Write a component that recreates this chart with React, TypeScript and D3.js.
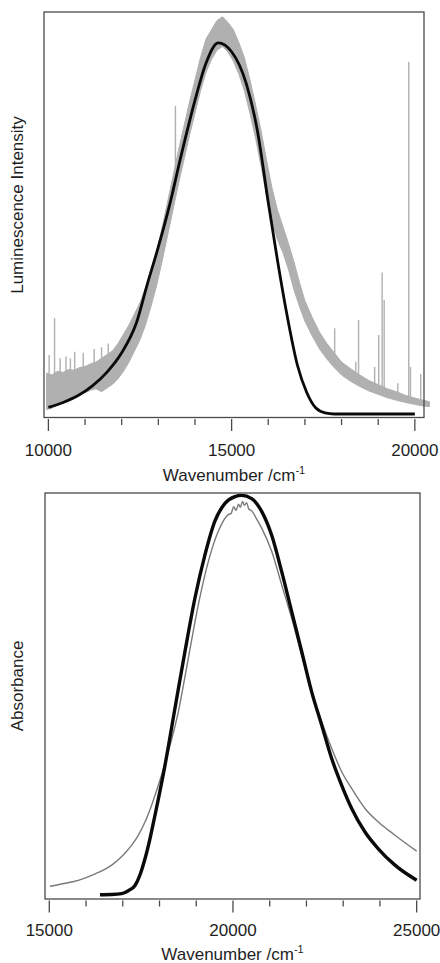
import React from "react";
import * as d3 from "d3";

// ---------- Top panel: luminescence ----------
const lumFitWn = [10000, 10400, 10800, 11200, 11600, 12000, 12400, 12700, 13000, 13300, 13600, 14000, 14300, 14633, 15000, 15400, 15700, 16000, 16250, 16500, 16800, 17050, 17300, 17550, 17800, 20000];
const lumFitVal = [0.018, 0.031, 0.049, 0.076, 0.113, 0.165, 0.245, 0.35, 0.45, 0.56, 0.687, 0.845, 0.945, 1.0, 0.976, 0.89, 0.765, 0.57, 0.415, 0.273, 0.13, 0.058, 0.016, 0.003, 0, 0];

const lumExpWn = [9950, 10100, 10250, 10400, 10550, 10700, 10850, 11000, 11150, 11300, 11450, 11600, 11750, 11900, 12050, 12200, 12350, 12500, 12650, 12800, 12950, 13100, 13250, 13400, 13550, 13700, 13850, 14000, 14150, 14300, 14450, 14600, 14750, 14900, 15050, 15200, 15350, 15500, 15650, 15800, 15950, 16100, 16250, 16400, 16550, 16700, 16850, 17000, 17200, 17400, 17600, 17800, 18000, 18250, 18500, 18750, 19000, 19250, 19500, 19750, 20000, 20200, 20400];
const lumExpLo = [0.012, 0.016, 0.025, 0.035, 0.042, 0.048, 0.052, 0.058, 0.064, 0.068, 0.06, 0.07, 0.08, 0.095, 0.115, 0.14, 0.17, 0.2, 0.24, 0.29, 0.345, 0.41, 0.48, 0.55, 0.62, 0.685, 0.75, 0.81, 0.87, 0.92, 0.955, 0.98, 0.99, 0.975, 0.95, 0.915, 0.87, 0.81, 0.745, 0.67, 0.59, 0.52, 0.47, 0.435, 0.39, 0.335, 0.29, 0.25, 0.21, 0.175, 0.148, 0.125, 0.105, 0.088, 0.074, 0.062, 0.053, 0.044, 0.037, 0.031, 0.026, 0.022, 0.02];
const lumExpHi = [0.11, 0.105, 0.115, 0.112, 0.12, 0.118, 0.125, 0.128, 0.135, 0.14, 0.15, 0.16, 0.17, 0.19, 0.215, 0.24, 0.27, 0.3, 0.34, 0.385, 0.435, 0.5, 0.57, 0.64, 0.71, 0.775, 0.84, 0.9, 0.96, 1.01, 1.035, 1.06, 1.07, 1.055, 1.035, 1.0, 0.96, 0.9, 0.835, 0.765, 0.685, 0.61, 0.55, 0.505, 0.46, 0.41, 0.355, 0.305, 0.26, 0.22, 0.19, 0.165, 0.14, 0.122, 0.105, 0.09, 0.079, 0.068, 0.06, 0.05, 0.043, 0.038, 0.033];

// sharp lines / noise spikes on the experimental trace: position, base, top
const spikeWn = [10020, 10168, 10320, 10480, 10600, 10718, 10950, 11250, 11450, 11633, 13467, 17812, 18388, 18464, 18903, 19014, 19107, 19163, 19535, 19834, 19881, 20160];
const spikeBase = [0.07, 0.07, 0.08, 0.08, 0.08, 0.09, 0.1, 0.11, 0.12, 0.14, 0.64, 0.14, 0.1, 0.1, 0.07, 0.065, 0.065, 0.065, 0.048, 0.04, 0.04, 0.03];
const spikeTop = [0.159, 0.258, 0.15, 0.155, 0.15, 0.168, 0.165, 0.175, 0.18, 0.19, 0.83, 0.231, 0.141, 0.253, 0.127, 0.213, 0.381, 0.307, 0.083, 0.948, 0.127, 0.108];

const lumTicks = d3.range(10000, 20001, 1000);
const lumLabels = [10000, 15000, 20000];

// ---------- Bottom panel: absorbance ----------
const absFitWn = [16380, 16700, 16971, 17150, 17333, 17470, 17605, 17740, 17877, 18149, 18421, 18693, 18965, 19237, 19510, 19782, 20054, 20237, 20509, 20781, 21054, 21326, 21598, 21870, 22142, 22414, 22687, 22959, 23231, 23594, 23956, 24410, 25000];
const absFitVal = [0, 0.0005, 0.0025, 0.01, 0.023, 0.05, 0.09, 0.14, 0.199, 0.324, 0.467, 0.609, 0.743, 0.851, 0.936, 0.98, 0.997, 1.0, 0.992, 0.96, 0.9, 0.809, 0.709, 0.609, 0.508, 0.425, 0.341, 0.274, 0.216, 0.157, 0.115, 0.074, 0.036];

const absExpWn = [15019, 15400, 15790, 16250, 16699, 17000, 17243, 17430, 17605, 17800, 17968, 18100, 18240, 18512, 18784, 19056, 19328, 19600, 19872, 19950, 20020, 20080, 20150, 20200, 20260, 20310, 20370, 20430, 20500, 20650, 20781, 21054, 21326, 21598, 21870, 22142, 22414, 22687, 22959, 23231, 23594, 23956, 24410, 25000];
const absExpVal = [0.021, 0.028, 0.036, 0.052, 0.074, 0.098, 0.124, 0.15, 0.182, 0.228, 0.274, 0.313, 0.358, 0.458, 0.592, 0.726, 0.834, 0.91, 0.952, 0.955, 0.972, 0.962, 0.978, 0.97, 0.985, 0.975, 0.982, 0.966, 0.962, 0.94, 0.918, 0.86, 0.776, 0.692, 0.6, 0.508, 0.433, 0.366, 0.308, 0.266, 0.216, 0.182, 0.149, 0.109];

const absTicks = d3.range(15000, 25001, 1000);
const absLabels = [15000, 20000, 25000];

const FONT = "Arial, 'Liberation Sans', Helvetica, sans-serif";
const FRAME = "#4a4a4a";
const TEXT = "#1e1e1e";
const GRAY_TRACE = "#b0b0b0";

type PanelProps = {
  x: d3.ScaleLinear<number, number>;
  y: d3.ScaleLinear<number, number>;
  ticks: number[];
  labels: number[];
  labelBaseline: number;
  titleBaseline: number;
  yLabel: string;
  yLabelCenter: number;
  children?: React.ReactNode;
};

function Panel({ x, y, ticks, labels, labelBaseline, titleBaseline, yLabel, yLabelCenter, children }: PanelProps) {
  const [x0, x1] = x.range();
  const [yb, yt] = y.range();
  const cx = (x0 + x1) / 2;
  return (
    <g>
      {children}
      <rect x={x0} y={yt} width={x1 - x0} height={yb - yt} fill="none" stroke={FRAME} strokeWidth={1.3} />
      {ticks.map((t) => {
        const major = labels.includes(t);
        return (
          <line key={t} x1={x(t)} x2={x(t)} y1={yb + 1.5} y2={yb + (major ? 13.5 : 7.5)} stroke={FRAME} strokeWidth={1.3} />
        );
      })}
      {labels.map((t) => (
        <text key={t} x={x(t)} y={labelBaseline} textAnchor="middle" fontFamily={FONT} fontSize={17} fill={TEXT}>
          {t}
        </text>
      ))}
      <text x={cx} y={titleBaseline} textAnchor="middle" fontFamily={FONT} fontSize={17} fill={TEXT}>
        <tspan>Wavenumber /cm</tspan>
        <tspan dy={-7} fontSize={11}>-1</tspan>
      </text>
      <text transform={`translate(22.5,${yLabelCenter}) rotate(-90)`} textAnchor="middle" fontFamily={FONT} fontSize={17} fill={TEXT}>
        {yLabel}
      </text>
    </g>
  );
}

export default function App() {
  // top panel scales
  const xL = d3.scaleLinear().domain([9880, 20250]).range([44, 424]);
  const yL = d3.scaleLinear().domain([-0.0094, 1.083]).range([417.5, 12]);
  // bottom panel scales
  const xA = d3.scaleLinear().domain([14883, 25091]).range([45, 420]);
  const yA = d3.scaleLinear().domain([-0.0108, 1.006]).range([899, 493]);

  const lumFit = lumFitWn.map((w, i) => [w, lumFitVal[i]] as [number, number]);
  const lumExp = lumExpWn.map((w, i) => ({ w, lo: lumExpLo[i], hi: lumExpHi[i] }));
  const absFit = absFitWn.map((w, i) => [w, absFitVal[i]] as [number, number]);
  const absExp = absExpWn.map((w, i) => [w, absExpVal[i]] as [number, number]);

  const lineL = d3.line<[number, number]>().x((d) => xL(d[0])).y((d) => yL(d[1])).curve(d3.curveMonotoneX);
  const areaL = d3
    .area<{ w: number; lo: number; hi: number }>()
    .x((d) => xL(d.w))
    .y0((d) => yL(d.lo))
    .y1((d) => yL(d.hi))
    .curve(d3.curveLinear);
  const lineA = d3.line<[number, number]>().x((d) => xA(d[0])).y((d) => yA(d[1])).curve(d3.curveMonotoneX);

  return (
    <svg width={440} height={963} style={{ position: "absolute", left: 0, top: 0, background: "#fff" }}>
      <Panel
        x={xL}
        y={yL}
        ticks={lumTicks}
        labels={lumLabels}
        labelBaseline={456}
        titleBaseline={481}
        yLabel="Luminescence Intensity"
        yLabelCenter={205}
      >
        <path d={areaL(lumExp) || ""} fill={GRAY_TRACE} stroke={GRAY_TRACE} strokeWidth={1} />
        {spikeWn.map((w, i) => (
          <line key={w} x1={xL(w)} x2={xL(w)} y1={yL(spikeBase[i])} y2={yL(spikeTop[i])} stroke={GRAY_TRACE} strokeWidth={1.4} />
        ))}
        <path d={lineL(lumFit) || ""} fill="none" stroke="#0a0a0a" strokeWidth={2.8} strokeLinejoin="round" />
      </Panel>
      <Panel
        x={xA}
        y={yA}
        ticks={absTicks}
        labels={absLabels}
        labelBaseline={936}
        titleBaseline={959.5}
        yLabel="Absorbance"
        yLabelCenter={686}
      >
        <path d={lineA(absExp) || ""} fill="none" stroke="#7a7a7a" strokeWidth={1.4} />
        <path d={lineA(absFit) || ""} fill="none" stroke="#0a0a0a" strokeWidth={3.4} strokeLinejoin="round" />
      </Panel>
    </svg>
  );
}
